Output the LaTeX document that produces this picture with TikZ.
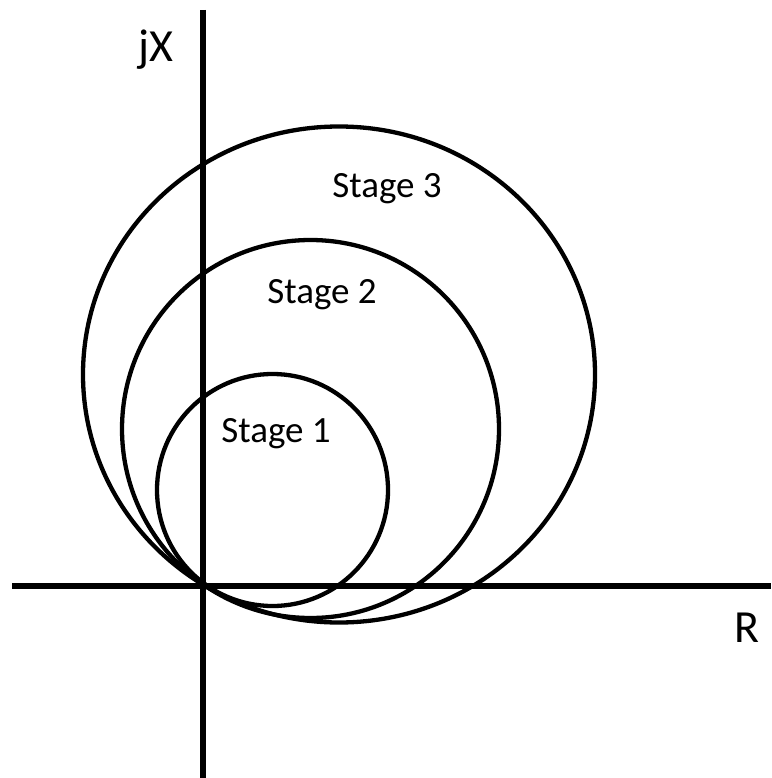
\documentclass[tikz,border=0pt]{standalone}
\usepackage{fontspec}
\setmainfont{Carlito}
\begin{document}
\begin{tikzpicture}[x=1pt,y=-1pt,
  axis/.style={line width=6pt},
  stagecurve/.style={line width=4.3pt},
  lbl/.style={inner sep=0pt,anchor=base,font=\fontsize{37}{44}\selectfont},
  axlbl/.style={inner sep=0pt,anchor=base,font=\fontsize{46}{54}\selectfont}]
\useasboundingbox (0,0) rectangle (771,778);
\coordinate (xl) at (12,586);
\coordinate (xr) at (771,586);
\coordinate (yt) at (203,10);
\coordinate (yb) at (203,778);
\draw[axis] (xl) -- (xr);
\draw[axis] (yt) -- (yb);
\draw[stagecurve] (272.5,490) ellipse [x radius=115.5, y radius=116];
\draw[stagecurve] (310.5,429) ellipse [x radius=188.5, y radius=189];
\draw[stagecurve] (339,374.5) ellipse [x radius=256, y radius=248];
\node[lbl] (s3) at (387,197) {Stage 3};
\node[lbl] (s2) at (322,303) {Stage 2};
\node[lbl] (s1) at (276,442) {Stage 1};
\node[axlbl] (jx) at (156,62) {jX};
\node[axlbl] (r) at (747,642) {R};
\end{tikzpicture}
\end{document}
